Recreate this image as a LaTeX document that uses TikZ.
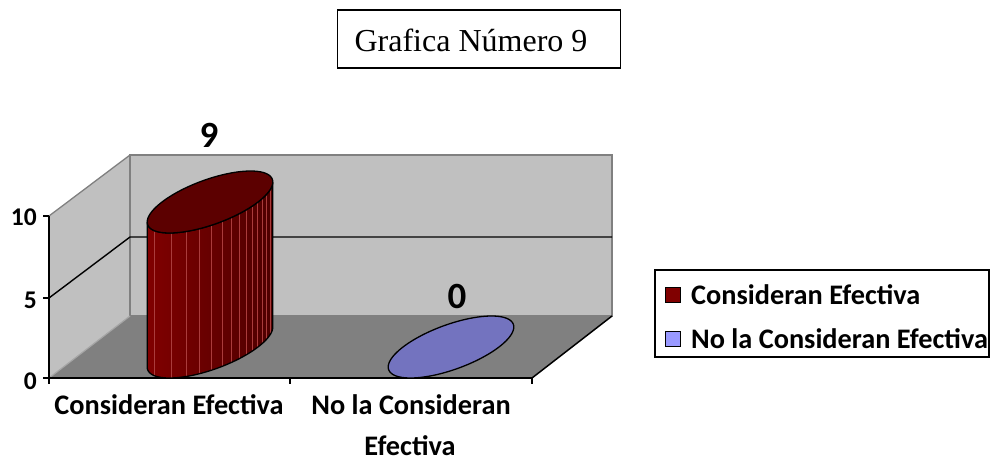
\documentclass[tikz,border=0pt]{standalone}
\usepackage{fontspec}
\setmainfont{Carlito}
\newfontfamily\titlefont{Liberation Serif}
\definecolor{wall}{RGB}{192,192,192}
\definecolor{floorc}{RGB}{128,128,128}
\definecolor{edgec}{RGB}{128,128,128}
\definecolor{redside}{RGB}{128,0,0}
\definecolor{redsidedark}{RGB}{78,0,0}
\definecolor{redtop}{RGB}{92,0,0}
\definecolor{stripec}{RGB}{170,60,60}
\definecolor{bluefill}{RGB}{115,115,191}
\definecolor{legblue}{RGB}{153,153,255}
\tikzset{
  lbl/.style={font=\fontsize{28.3}{34}\selectfont\bfseries, inner sep=0pt},
  datalbl/.style={font=\fontsize{37}{42}\selectfont\bfseries, inner sep=0pt},
  ylbl/.style={font=\fontsize{25.5}{30}\selectfont\bfseries, inner sep=0pt, anchor=east},
  wallline/.style={draw=edgec, line width=1.3pt},
  axisline/.style={draw=black, line width=1.5pt},
  gridl/.style={draw=black, line width=1.4pt},
  outl/.style={draw=black, line width=1.3pt},
}
\begin{document}
\begin{tikzpicture}[x=1pt,y=-1pt]
\useasboundingbox (0,0) rectangle (992,460);
% title
\node[draw=black, line width=1.5pt, minimum width=283pt, minimum height=58pt, inner sep=0pt] (titlebox) at (479,39) {};
\node[font=\titlefont\fontsize{32}{38}\selectfont, inner sep=0pt] (title) at (471,40) {Grafica Número 9};
% walls
\fill[wall] (130,155) rectangle (612,316);
\fill[wall] (49,216) -- (130,155) -- (130,316) -- (49,378) -- cycle;
\fill[floorc] (49,378) -- (532,378) -- (612,316) -- (130,316) -- cycle;
\draw[wallline] (130,316) -- (130,155) -- (612,155) -- (612,316) -- (130,316);
\draw[wallline] (49,216) -- (130,155);
\draw[draw=edgec!70!white, line width=1.2pt] (49,378) -- (130,316);
\draw[axisline] (532,378) -- (612,316);
% gridline at 5
\draw[gridl] (49,298) -- (130,237) -- (612,237);
% axes
\draw[axisline] (49,216) -- (49,378) -- (532,378);
\foreach \yy in {216,298,378} \draw[axisline] (43,\yy) -- (49,\yy);
\foreach \xx in {49,290,532} \draw[axisline] (\xx,378) -- (\xx,384);
% y labels
\node[ylbl] (y10) at (37,217) {10};
\node[ylbl] (y5) at (37,300) {5};
\node[ylbl] (y0) at (37,381) {0};
% red cylinder
\def\sidepath{plot[domain=220.16:400.16, samples=60] ({210+48*cos(\x)+40.5*sin(\x)},{347-31*sin(\x)}) -- plot[domain=400.16:220.16, samples=60] ({210+48*cos(\x)+40.5*sin(\x)},{202-31*sin(\x)}) -- cycle}
\shade[left color=redside, right color=redsidedark] \sidepath;
\begin{scope}
  \clip \sidepath;
  \foreach \xx in {154,171,186,199,211,222,231,239,246,252,257,262,266,270}
    \draw[stripec, line width=0.5pt] (\xx,150) -- (\xx,400);
\end{scope}
\draw[outl] \sidepath;
\draw[outl, fill=redtop] plot[domain=0:360, samples=90, smooth cycle] ({210+48*cos(\x)+40.5*sin(\x)},{202-31*sin(\x)}) -- cycle;
% blue ellipse
\draw[outl, fill=bluefill] plot[domain=0:360, samples=90, smooth cycle] ({451+48*cos(\x)+40.5*sin(\x)},{347-31*sin(\x)}) -- cycle;
% data labels
\node[datalbl] (d9) at (209,135) {9};
\node[datalbl] (d0) at (457,296) {0};
% x labels
\node[lbl] (c1) at (169,405) {Consideran Efectiva};
\node[lbl] (c2a) at (411,405) {No la Consideran};
\node[lbl] (c2b) at (410,446) {Efectiva};
% legend
\node[draw=black, line width=1.5pt, minimum width=334pt, minimum height=87pt, inner sep=0pt] (legend) at (822,313.5) {};
\node[draw=black, line width=1.2pt, fill=redside, minimum size=15pt, inner sep=0pt] (k1) at (673,295) {};
\node[draw=black, line width=1.2pt, fill=legblue, minimum size=15pt, inner sep=0pt] (k2) at (673,339) {};
\node[lbl, anchor=west] (l1) at (691,295) {Consideran Efectiva};
\node[lbl, anchor=west] (l2) at (691,339) {No la Consideran Efectiva};
\end{tikzpicture}
\end{document}
